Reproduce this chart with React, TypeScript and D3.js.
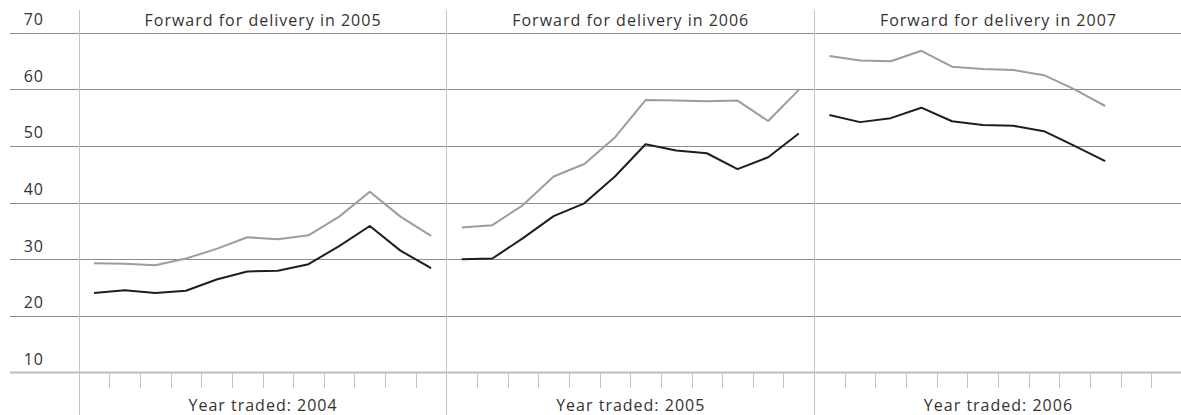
import React from "react";
import * as d3 from "d3";

const panelTitles = ["Forward for delivery in 2005", "Forward for delivery in 2006", "Forward for delivery in 2007"];
const panelAxisLabels = ["Year traded: 2004", "Year traded: 2005", "Year traded: 2006"];
const yTicks = [10, 20, 30, 40, 50, 60, 70];

// Black series (monthly, per panel)
const black2005 = [24.0, 24.5, 24.0, 24.4, 26.4, 27.8, 27.95, 29.1, 32.3, 35.85, 31.5, 28.4];
const black2006 = [29.96, 30.1, 33.7, 37.6, 39.85, 44.6, 50.3, 49.2, 48.7, 45.9, 48.0, 52.2];
const black2007 = [55.46, 54.2, 54.9, 56.75, 54.35, 53.7, 53.55, 52.6, 50.0, 47.3];
// Grey series
const grey2005 = [29.26, 29.2, 28.9, 30.1, 31.8, 33.85, 33.5, 34.2, 37.5, 41.9, 37.5, 34.1];
const grey2006 = [35.6, 36.0, 39.55, 44.6, 46.8, 51.5, 58.1, 58.0, 57.9, 58.0, 54.4, 59.9];
const grey2007 = [65.9, 65.1, 64.95, 66.8, 64.0, 63.6, 63.4, 62.5, 60.0, 57.05];

const blackSeries = [black2005, black2006, black2007];
const greySeries = [grey2005, grey2006, grey2007];

const W = 1181;
const H = 415;
const FONT = "'Open Sans', sans-serif";
const FS = 16;
const LS = 1;

export default function App() {
  const x = d3.scaleLinear().domain([0, 36]).range([78.7, 78.7 + 3 * 367.7]);
  const y = d3.scaleLinear().domain([10, 70]).range([372.3, 32.7]);

  const line = (p: number) =>
    d3
      .line<number>()
      .x((_, i) => x(p * 12 + i + 0.5))
      .y((d) => y(d));

  const monthTicks = d3.range(1, 36).filter((m) => m % 12 !== 0);

  return (
    <svg
      width={W}
      height={H}
      style={{ position: "absolute", left: 0, top: 0, background: "#fff" }}
    >
      {/* horizontal gridlines */}
      {yTicks.map((t) => (
        <line
          key={"g" + t}
          x1={10}
          x2={W}
          y1={Math.round(y(t)) + 0.5}
          y2={Math.round(y(t)) + 0.5}
          stroke={t === 10 ? "#bdbdbd" : "#8c8c8c"}
          strokeWidth={t === 10 ? 2 : 1}
        />
      ))}
      {/* y labels */}
      {yTicks.map((t) => (
        <text
          key={"yl" + t}
          x={44}
          y={y(t) - 7.5}
          textAnchor="end"
          fontFamily={FONT}
          fontSize={FS}
          letterSpacing={LS}
          fill="#333"
        >
          {t}
        </text>
      ))}
      {/* panel separators */}
      {[0, 12, 24].map((m) => (
        <line
          key={"s" + m}
          x1={Math.round(x(m)) + 0.5}
          x2={Math.round(x(m)) + 0.5}
          y1={10}
          y2={H}
          stroke="#c4c4c4"
          strokeWidth={1}
        />
      ))}
      {/* month ticks */}
      {monthTicks.map((m) => (
        <line
          key={"t" + m}
          x1={Math.round(x(m)) + 0.5}
          x2={Math.round(x(m)) + 0.5}
          y1={y(10)}
          y2={388}
          stroke="#c4c4c4"
          strokeWidth={1}
        />
      ))}
      {/* titles and bottom labels */}
      {panelTitles.map((t, p) => (
        <text
          key={"pt" + p}
          x={x(p * 12 + 6) + LS / 2}
          y={26}
          textAnchor="middle"
          fontFamily={FONT}
          fontSize={FS}
          letterSpacing={LS}
          fill="#333"
        >
          {t}
        </text>
      ))}
      {panelAxisLabels.map((t, p) => (
        <text
          key={"pa" + p}
          x={x(p * 12 + 6) + LS / 2}
          y={411}
          textAnchor="middle"
          fontFamily={FONT}
          fontSize={FS}
          letterSpacing={LS}
          fill="#333"
        >
          {t}
        </text>
      ))}
      {/* series */}
      {greySeries.map((s, p) => (
        <path key={"gr" + p} d={line(p)(s) || ""} fill="none" stroke="#9d9d9d" strokeWidth={2} strokeLinejoin="round" />
      ))}
      {blackSeries.map((s, p) => (
        <path key={"bk" + p} d={line(p)(s) || ""} fill="none" stroke="#1e1e1e" strokeWidth={2} strokeLinejoin="round" />
      ))}
    </svg>
  );
}
